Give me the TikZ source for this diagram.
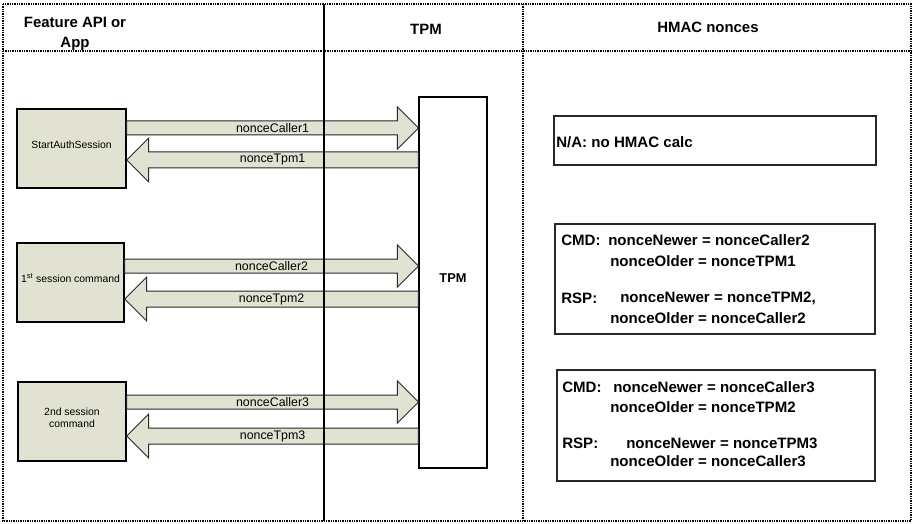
\documentclass[tikz,border=0pt]{standalone}
\usepackage{fontspec}
\setmainfont{Liberation Sans}
\usetikzlibrary{calc,fit}
\definecolor{cmdfill}{RGB}{226,226,210}
\definecolor{edgegray}{RGB}{40,40,40}
\newcommand\RBlock[2]{\draw[blockarrow] ($(#1)+(0,-7)$) -- ($(#2)+(-21,-7)$) -- ($(#2)+(-21,-21)$) -- (#2) -- ($(#2)+(-21,21)$) -- ($(#2)+(-21,7)$) -- ($(#1)+(0,7)$) -- cycle;}
\newcommand\LBlock[2]{\draw[blockarrow] ($(#1)+(0,-8)$) -- ($(#2)+(22,-8)$) -- ($(#2)+(22,-22)$) -- (#2) -- ($(#2)+(22,22)$) -- ($(#2)+(22,8)$) -- ($(#1)+(0,8)$) -- cycle;}
\begin{document}
\begin{tikzpicture}[x=0.75pt,y=-0.75pt,
  dotline/.style={line width=0.9pt, dash pattern=on 1pt off 0.75pt},
  sepline/.style={line width=0.95pt},
  header/.style={font=\fontsize{11.2}{15}\selectfont\bfseries, align=center, inner sep=0pt},
  cmdbox/.style={draw=black, line width=1.1pt, fill=cmdfill, inner sep=0pt, align=center, font=\fontsize{7.8}{9}\selectfont},
  tpmbox/.style={draw=black, line width=0.8pt, fill=white, inner sep=0pt, font=\fontsize{9.6}{11}\selectfont\bfseries},
  hmacbox/.style={draw=edgegray, line width=0.8pt, inner sep=0pt},
  blockarrow/.style={draw=edgegray, line width=0.75pt, fill=cmdfill, line join=miter},
  lbl/.style={font=\fontsize{9.3}{11}\selectfont, inner sep=0pt},
  htxt/.style={font=\fontsize{11.3}{13}\selectfont\bfseries, anchor=west, inner sep=0pt}]
\useasboundingbox (0,0) rectangle (914,524);
% headers
\node[header] (hfeat) at (75,34) {Feature API or\\App};
\node[header] (htpm) at (426,29) {TPM};
\node[header] (hhmac) at (708,27) {HMAC nonces};
% left command boxes
\node[cmdbox, fit={(17,109)(126,188)}] (b1) {StartAuthSession};
\node[cmdbox, fit={(17,243)(124,322)}] (b2) {1\textsuperscript{st} session command};
\node[cmdbox, fit={(18,382)(126,461)}] (b3) {2nd session\\command};
% TPM box
\node[tpmbox, fit={(419,97)(487,468)}] (tpm) {TPM};
% arrow end points
\coordinate (c1t) at (tpm.west |- 0,128);
\coordinate (c1s) at (b1.east |- c1t);
\coordinate (p1s) at (tpm.west |- 0,160);
\coordinate (p1t) at (b1.east |- p1s);
\coordinate (c2t) at (tpm.west |- 0,266);
\coordinate (c2s) at (b2.east |- c2t);
\coordinate (p2s) at (tpm.west |- 0,299);
\coordinate (p2t) at (b2.east |- p2s);
\coordinate (c3t) at (tpm.west |- 0,402);
\coordinate (c3s) at (b3.east |- c3t);
\coordinate (p3s) at (tpm.west |- 0,436);
\coordinate (p3t) at (b3.east |- p3s);
\RBlock{c1s}{c1t}
\LBlock{p1s}{p1t}
\RBlock{c2s}{c2t}
\LBlock{p2s}{p2t}
\RBlock{c3s}{c3t}
\LBlock{p3s}{p3t}
\node[lbl] (l1) at ($(c1s)!0.5!(c1t)$) {nonceCaller1};
\node[lbl] (l2) at ($(p1s)!0.5!(p1t)$) {nonceTpm1};
\node[lbl] (l3) at ($(c2s)!0.5!(c2t)$) {nonceCaller2};
\node[lbl] (l4) at ($(p2s)!0.5!(p2t)$) {nonceTpm2};
\node[lbl] (l5) at ($(c3s)!0.5!(c3t)$) {nonceCaller3};
\node[lbl] (l6) at ($(p3s)!0.5!(p3t)$) {nonceTpm3};
% frame and column separators
\draw[dotline] (3,4) rectangle (911,521);
\draw[dotline] (3,51) -- (911,51);
\draw[sepline] (324,4) -- (324,521);
\draw[dotline] (523,4) -- (523,521);
% HMAC boxes
\node[hmacbox, fit={(554,116)(876,165)}] (ha) {};
\node[htxt] (ha1) at (556,142) {N/A: no HMAC calc};
\node[hmacbox, fit={(555,224)(875,334)}] (hb) {};
\node[htxt] (hb1) at (561,240) {CMD:};
\node[htxt] (hb2) at (608,240) {nonceNewer = nonceCaller2};
\node[htxt] (hb3) at (610,261) {nonceOlder = nonceTPM1};
\node[htxt] (hb4) at (561,298) {RSP:};
\node[htxt] (hb5) at (620,298) {nonceNewer = nonceTPM2,};
\node[htxt] (hb6) at (610,318) {nonceOlder = nonceCaller2};
\node[hmacbox, fit={(557,370)(875,481)}] (hc) {};
\node[htxt] (hc1) at (562,387) {CMD:};
\node[htxt] (hc2) at (613,387) {nonceNewer = nonceCaller3};
\node[htxt] (hc3) at (610,407) {nonceOlder = nonceTPM2};
\node[htxt] (hc4) at (562,443) {RSP:};
\node[htxt] (hc5) at (626,443) {nonceNewer = nonceTPM3};
\node[htxt] (hc6) at (610,461) {nonceOlder = nonceCaller3};
\end{tikzpicture}
\end{document}
